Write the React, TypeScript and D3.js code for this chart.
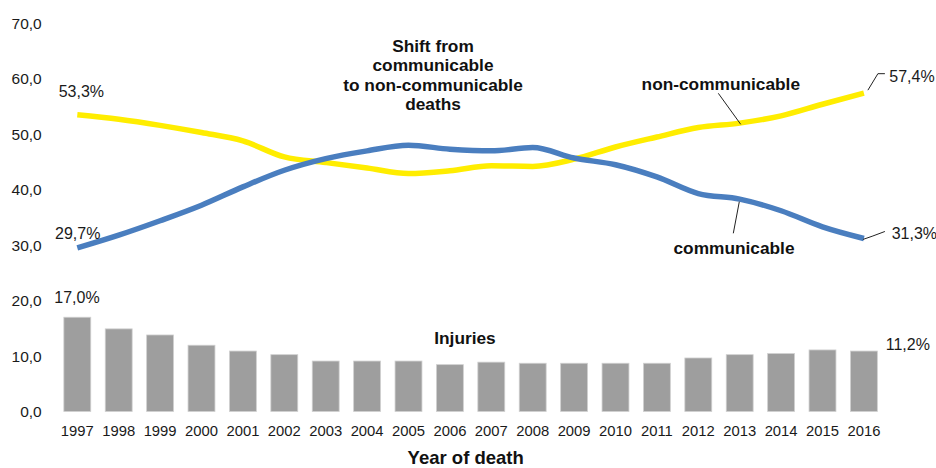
import React from "react";
import * as d3 from "d3";

const years = ["1997","1998","1999","2000","2001","2002","2003","2004","2005","2006","2007","2008","2009","2010","2011","2012","2013","2014","2015","2016"];
const injuries = [17.0, 14.9, 13.8, 11.95, 10.9, 10.25, 9.1, 9.1, 9.1, 8.45, 8.9, 8.7, 8.7, 8.7, 8.7, 9.65, 10.25, 10.45, 11.1, 10.9];
const nonCommunicable = [53.5, 52.7, 51.6, 50.3, 48.8, 45.9, 44.9, 43.9, 42.9, 43.4, 44.3, 44.2, 45.5, 47.7, 49.5, 51.2, 52.0, 53.3, 55.4, 57.4];
const communicable = [29.5, 31.8, 34.4, 37.2, 40.5, 43.5, 45.6, 47.0, 48.0, 47.3, 47.0, 47.6, 45.7, 44.5, 42.3, 39.3, 38.3, 36.2, 33.3, 31.2];
const yTicks = [0, 10, 20, 30, 40, 50, 60, 70];
const startLabels = ["53,3%", "29,7%", "17,0%"];
const endLabels = ["57,4%", "31,3%", "11,2%"];
const titleLines = ["Shift from", "communicable", "to non-communicable", "deaths"];

const FONT = "'Liberation Sans', Arial, sans-serif";
const YELLOW = "#FFED00";
const BLUE = "#4A7EBF";
const GREY = "#9E9E9E";

export default function App() {
  const x = d3.scaleBand<string>().domain(years).range([56.6, 884.6]).paddingInner(0.35).paddingOuter(0.175);
  const y = d3.scaleLinear().domain([0, 70]).range([411.5, 23.3]);
  const cx = (i: number) => (x(years[i]) as number) + x.bandwidth() / 2;
  const line = d3.line<number>().x((_, i) => cx(i)).y((d) => y(d)).curve(d3.curveMonotoneX);
  const fmt = (v: number) => d3.format(".1f")(v).replace(".", ",");
  const last = years.length - 1;

  return (
    <svg width={936} height={468} style={{ position: "absolute", left: 0, top: 0, background: "#fff" }} fontFamily={FONT}>
      {/* y tick labels */}
      {yTicks.map((t) => (
        <text key={t} x={41.7} y={y(t) + 5.5} textAnchor="end" fontSize={15.5} fill="#1a1a1a">{fmt(t)}</text>
      ))}
      {/* bars */}
      {injuries.map((v, i) => (
        <rect key={years[i]} x={x(years[i])} y={y(v)} width={x.bandwidth()} height={y(0) - y(v)} fill={GREY} stroke="#d0d0d0" strokeWidth={0.8} />
      ))}
      {/* x labels */}
      {years.map((yr, i) => (
        <text key={yr} x={cx(i)} y={436} textAnchor="middle" fontSize={14.8} fill="#1a1a1a">{yr}</text>
      ))}
      {/* lines */}
      <path d={line(nonCommunicable) || ""} fill="none" stroke={YELLOW} strokeWidth={5.5} strokeLinejoin="round" />
      <path d={line(communicable) || ""} fill="none" stroke={BLUE} strokeWidth={5.5} strokeLinejoin="round" />

      {/* start labels */}
      <text x={58.7} y={96.5} fontSize={16} fill="#1a1a1a">{startLabels[0]}</text>
      <text x={55} y={239} fontSize={16} fill="#1a1a1a">{startLabels[1]}</text>
      <text x={54.3} y={303} fontSize={16} fill="#1a1a1a">{startLabels[2]}</text>

      {/* end labels with leaders */}
      <polyline points={`${cx(last) + 4},${y(nonCommunicable[last]) - 3} ${cx(last) + 14},${y(nonCommunicable[last]) - 19.5} ${cx(last) + 21},${y(nonCommunicable[last]) - 19.5}`} fill="none" stroke="#222" strokeWidth={1} />
      <text x={889.3} y={81.7} fontSize={16} fill="#1a1a1a">{endLabels[0]}</text>
      <polyline points={`${cx(last) - 1},${y(communicable[last]) + 1} ${cx(last) + 9},${y(communicable[last]) - 2.5} ${cx(last) + 21},${y(communicable[last]) - 7}`} fill="none" stroke="#222" strokeWidth={1} />
      <text x={891.7} y={239} fontSize={16} fill="#1a1a1a">{endLabels[1]}</text>
      <text x={885.7} y={350} fontSize={16} fill="#1a1a1a">{endLabels[2]}</text>

      {/* title block */}
      {titleLines.map((t, i) => (
        <text key={t} x={433} y={51.5 + i * 19.5} textAnchor="middle" fontSize={17.3} fontWeight="bold" fill="#111">{t}</text>
      ))}

      {/* series annotations */}
      <text x={720.8} y={90} textAnchor="middle" fontSize={17.3} fontWeight="bold" fill="#111">non-communicable</text>
      <line x1={718.3} y1={93.3} x2={740.7} y2={124.3} stroke="#222" strokeWidth={1} />
      <text x={734} y={254} textAnchor="middle" fontSize={17.3} fontWeight="bold" fill="#111">communicable</text>
      <line x1={733.3} y1={233.3} x2={739.3} y2={201.7} stroke="#222" strokeWidth={1} />
      <text x={465} y={344.3} textAnchor="middle" fontSize={17.3} fontWeight="bold" fill="#111">Injuries</text>

      {/* axis title */}
      <text x={465.7} y={464} textAnchor="middle" fontSize={18.5} fontWeight="bold" fill="#111">Year of death</text>
    </svg>
  );
}
